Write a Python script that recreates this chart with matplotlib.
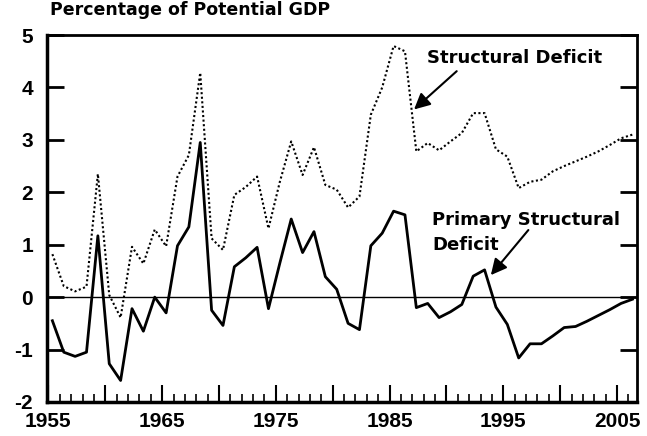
import numpy as np
import matplotlib
matplotlib.use("Agg")
import matplotlib.pyplot as plt
from matplotlib.ticker import FixedLocator, MultipleLocator

plt.rcParams['font.family'] = ['Liberation Sans', 'DejaVu Sans']
plt.rcParams['font.weight'] = 'bold'

years = list(range(1955, 2007))
structural = [0.82, 0.21, 0.11, 0.20, 2.35, 0.04, -0.39, 0.96, 0.64, 1.29,
              0.97, 2.30, 2.71, 4.28, 1.12, 0.90, 1.95, 2.10, 2.30, 1.31,
              2.20, 2.97, 2.33, 2.86, 2.14, 2.05, 1.71, 1.92, 3.48, 4.00,
              4.79, 4.69, 2.78, 2.94, 2.80, 2.97, 3.13, 3.51, 3.51, 2.82,
              2.68, 2.08, 2.20, 2.24, 2.40, 2.50, 2.59, 2.68, 2.78, 2.90,
              3.03, 3.10]
primary = [-0.45, -1.05, -1.13, -1.05, 1.17, -1.27, -1.59, -0.22, -0.65, 0.00,
           -0.30, 0.98, 1.34, 2.95, -0.25, -0.54, 0.58, 0.75, 0.95, -0.22,
           0.65, 1.49, 0.85, 1.25, 0.39, 0.15, -0.50, -0.62, 0.98, 1.22,
           1.64, 1.57, -0.20, -0.12, -0.39, -0.28, -0.14, 0.40, 0.52, -0.19,
           -0.52, -1.16, -0.89, -0.89, -0.74, -0.58, -0.56, -0.46, -0.35, -0.24,
           -0.12, -0.04]
xtick_labels = ['1955', '1965', '1975', '1985', '1995', '2005']
ytick_values = [-2, -1, 0, 1, 2, 3, 4, 5]

# points plotted at mid fiscal year
x = np.array(years) + 0.35

fig = plt.figure(figsize=(6.47, 4.36), dpi=100)
ax = fig.add_axes([0.0727, 0.078, 0.9118, 0.8417])

ax.axhline(0, color='black', lw=1.0, zorder=1)
ax.plot(x, structural, color='black', lw=1.5, linestyle=(0, (1, 1.2)), zorder=3)
ax.plot(x, primary, color='black', lw=2.0, zorder=3)

ax.set_xlim(1954.88, 2006.75)
ax.set_ylim(-2, 5)

major = list(range(1955, 2006, 5))
ax.xaxis.set_major_locator(FixedLocator(major))
ax.set_xticklabels([str(y) if str(y) in xtick_labels else '' for y in major])
ax.xaxis.set_minor_locator(MultipleLocator(1))
ax.set_yticks(ytick_values)
ax.set_yticklabels([str(v) for v in ytick_values])

ax.tick_params(axis='x', which='major', direction='in', length=12, width=1.5,
               labelsize=15, pad=7.5)
ax.tick_params(axis='x', which='minor', direction='in', length=6, width=1.2)
ax.tick_params(axis='y', which='major', direction='in', length=12, width=2,
               labelsize=15, pad=10, right=True)
for lab in ax.get_xticklabels() + ax.get_yticklabels():
    lab.set_fontweight('bold')

for s in ['left', 'bottom']:
    ax.spines[s].set_linewidth(2.5)
for s in ['top', 'right']:
    ax.spines[s].set_linewidth(2.0)

wide = ['DejaVu Sans']
fig.text(0.077, 1 - 15 / 436, 'Percentage of Potential GDP', fontsize=12.5,
         fontweight='bold', ha='left', va='baseline', family=wide)

ax.text(1988.3, 4.47, 'Structural Deficit', fontsize=13, fontweight='bold',
        ha='left', va='baseline', family=wide)
ax.text(1988.75, 1.377, 'Primary Structural', fontsize=13,
        fontweight='bold', ha='left', va='baseline', family=wide)
ax.text(1988.75, 0.90, 'Deficit', fontsize=13,
        fontweight='bold', ha='left', va='baseline', family=wide)

ax.annotate('', xy=(1987.15, 3.58), xytext=(1990.9, 4.31),
            arrowprops=dict(arrowstyle='-|>', color='black', lw=1.5,
                            mutation_scale=24, shrinkA=0, shrinkB=0))
ax.annotate('', xy=(1993.9, 0.42), xytext=(1997.2, 1.28),
            arrowprops=dict(arrowstyle='-|>', color='black', lw=1.5,
                            mutation_scale=24, shrinkA=0, shrinkB=0))

fig.savefig('out.png', dpi=100)
